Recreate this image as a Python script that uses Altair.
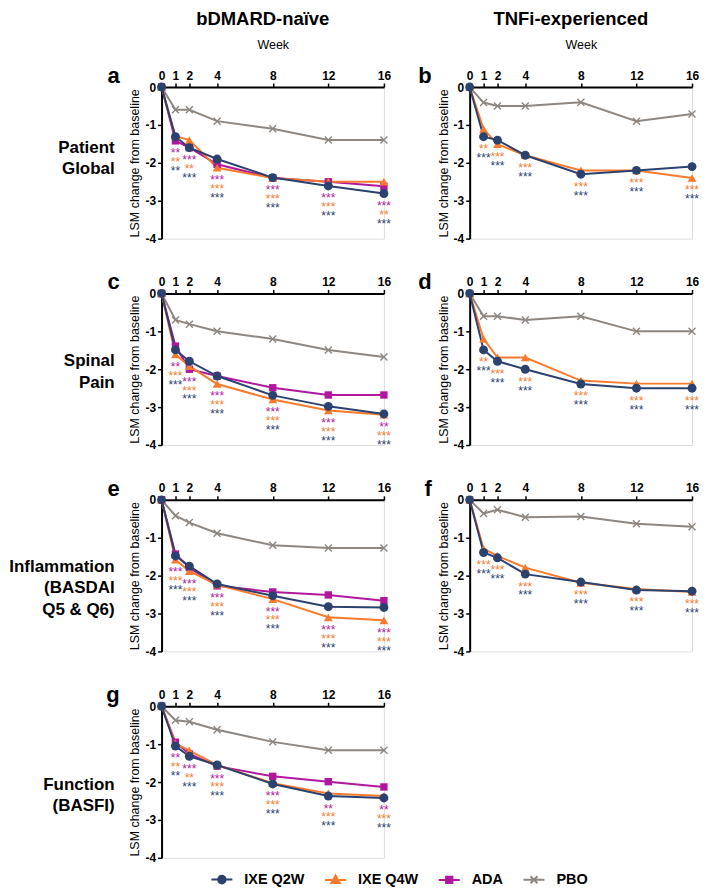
import altair as alt
import pandas as pd

FONT = "Liberation Sans"
WEEKS = [0, 1, 2, 4, 8, 12, 16]
SIG_WEEKS = [1, 2, 4, 8, 12, 16]
Y_TICKS = [0, -1, -2, -3, -4]
SERIES = ["IXE Q2W", "IXE Q4W", "ADA", "PBO"]
COLORS = ["#2b416e", "#f87a2c", "#b1179e", "#8e8680"]

COL_TITLES = ["bDMARD-naïve", "TNFi-experienced"]
ROW_LABELS = ["Patient\nGlobal", "Spinal\nPain", "Inflammation\n(BASDAI\nQ5 & Q6)", "Function\n(BASFI)"]
LETTERS = ["a", "b", "c", "d", "e", "f", "g"]
X_TITLE = "Week"
Y_TITLE = "LSM change from baseline"

# (a) Patient Global - bDMARD-naive
A_Q2W = [0, -1.31, -1.6, -1.9, -2.39, -2.61, -2.81]
A_Q4W = [0, -1.3, -1.4, -2.13, -2.4, -2.5, -2.5]
A_ADA = [0, -1.42, -1.6, -2.04, -2.4, -2.5, -2.62]
A_PBO = [0, -0.6, -0.6, -0.9, -1.1, -1.4, -1.4]
A_SIG_ADA = ["**", "***", "***", "***", "***", "***"]
A_SIG_Q4W = ["**", "**", "***", "***", "***", "**"]
A_SIG_Q2W = ["**", "***", "***", "***", "***", "***"]

# (b) Patient Global - TNFi-experienced
B_Q2W = [0, -1.31, -1.4, -1.8, -2.3, -2.2, -2.1]
B_Q4W = [0, -1.11, -1.51, -1.8, -2.2, -2.2, -2.4]
B_PBO = [0, -0.41, -0.5, -0.5, -0.4, -0.9, -0.71]
B_SIG_Q4W = ["**", "***", "***", "***", "***", "***"]
B_SIG_Q2W = ["***", "***", "***", "***", "***", "***"]

# (c) Spinal Pain - bDMARD-naive
C_Q2W = [0, -1.49, -1.79, -2.18, -2.69, -2.98, -3.18]
C_Q4W = [0, -1.61, -1.92, -2.39, -2.8, -3.09, -3.2]
C_ADA = [0, -1.39, -2.0, -2.18, -2.49, -2.68, -2.68]
C_PBO = [0, -0.7, -0.81, -1.0, -1.2, -1.49, -1.68]
C_SIG_ADA = ["**", "***", "***", "***", "***", "**"]
C_SIG_Q4W = ["***", "***", "***", "***", "***", "***"]
C_SIG_Q2W = ["***", "***", "***", "***", "***", "***"]

# (d) Spinal Pain - TNFi-experienced
D_Q2W = [0, -1.49, -1.79, -2.0, -2.39, -2.5, -2.5]
D_Q4W = [0, -1.2, -1.69, -1.69, -2.3, -2.38, -2.38]
D_PBO = [0, -0.6, -0.6, -0.7, -0.6, -1.0, -1.0]
D_SIG_Q4W = ["**", "***", "***", "***", "***", "***"]
D_SIG_Q2W = ["***", "***", "***", "***", "***", "***"]

# (e) Inflammation - bDMARD-naive
E_Q2W = [0, -1.48, -1.75, -2.22, -2.53, -2.82, -2.84]
E_Q4W = [0, -1.58, -1.88, -2.24, -2.62, -3.1, -3.18]
E_ADA = [0, -1.43, -1.79, -2.27, -2.43, -2.51, -2.66]
E_PBO = [0, -0.42, -0.6, -0.88, -1.2, -1.27, -1.27]
E_SIG_ADA = ["***", "***", "***", "***", "***", "***"]
E_SIG_Q4W = ["***", "***", "***", "***", "***", "***"]
E_SIG_Q2W = ["***", "***", "***", "***", "***", "***"]

# (f) Inflammation - TNFi-experienced
F_Q2W = [0, -1.39, -1.53, -1.96, -2.17, -2.38, -2.41]
F_Q4W = [0, -1.29, -1.48, -1.79, -2.19, -2.35, -2.43]
F_PBO = [0, -0.36, -0.26, -0.46, -0.44, -0.63, -0.71]
F_SIG_Q4W = ["***", "***", "***", "***", "***", "***"]
F_SIG_Q2W = ["***", "***", "***", "***", "***", "***"]

# (g) Function - bDMARD-naive
G_Q2W = [0, -1.05, -1.32, -1.55, -2.05, -2.37, -2.42]
G_Q4W = [0, -0.98, -1.17, -1.55, -2.03, -2.3, -2.37]
G_ADA = [0, -0.95, -1.26, -1.58, -1.85, -1.99, -2.13]
G_PBO = [0, -0.37, -0.41, -0.62, -0.94, -1.16, -1.16]
G_SIG_ADA = ["**", "***", "***", "***", "**", "**"]
G_SIG_Q4W = ["**", "**", "***", "***", "***", "***"]
G_SIG_Q2W = ["**", "***", "***", "***", "***", "***"]

PANELS = [
    dict(lines={"IXE Q2W": A_Q2W, "IXE Q4W": A_Q4W, "ADA": A_ADA, "PBO": A_PBO},
         sig={"ADA": A_SIG_ADA, "IXE Q4W": A_SIG_Q4W, "IXE Q2W": A_SIG_Q2W}),
    dict(lines={"IXE Q2W": B_Q2W, "IXE Q4W": B_Q4W, "PBO": B_PBO},
         sig={"IXE Q4W": B_SIG_Q4W, "IXE Q2W": B_SIG_Q2W}),
    dict(lines={"IXE Q2W": C_Q2W, "IXE Q4W": C_Q4W, "ADA": C_ADA, "PBO": C_PBO},
         sig={"ADA": C_SIG_ADA, "IXE Q4W": C_SIG_Q4W, "IXE Q2W": C_SIG_Q2W}),
    dict(lines={"IXE Q2W": D_Q2W, "IXE Q4W": D_Q4W, "PBO": D_PBO},
         sig={"IXE Q4W": D_SIG_Q4W, "IXE Q2W": D_SIG_Q2W}),
    dict(lines={"IXE Q2W": E_Q2W, "IXE Q4W": E_Q4W, "ADA": E_ADA, "PBO": E_PBO},
         sig={"ADA": E_SIG_ADA, "IXE Q4W": E_SIG_Q4W, "IXE Q2W": E_SIG_Q2W}),
    dict(lines={"IXE Q2W": F_Q2W, "IXE Q4W": F_Q4W, "PBO": F_PBO},
         sig={"IXE Q4W": F_SIG_Q4W, "IXE Q2W": F_SIG_Q2W}),
    dict(lines={"IXE Q2W": G_Q2W, "IXE Q4W": G_Q4W, "ADA": G_ADA, "PBO": G_PBO},
         sig={"ADA": G_SIG_ADA, "IXE Q4W": G_SIG_Q4W, "IXE Q2W": G_SIG_Q2W}),
]

# ---------------- styling ----------------
W, H = 223, 152
ROW_LABEL_CY = [61, 68, 67, 79]
X_MARK = "M-0.75,-1L0,-0.25L0.75,-1L1,-0.75L0.25,0L1,0.75L0.75,1L0,0.25L-0.75,1L-1,0.75L-0.25,0L-1,-0.75Z"
MARKER = {"IXE Q2W": ("circle", 80), "IXE Q4W": ("triangle-up", 78), "ADA": ("square", 55), "PBO": (X_MARK, 64)}
LINE_W = [2, 2, 2, 1.5]
LEG_PATHS = [
    "M-1,0H1M-0.36,0A0.36,0.36,0,1,0,0.36,0A0.36,0.36,0,1,0,-0.36,0Z",
    "M-1,0H1M0,-0.42L0.4,0.3L-0.4,0.3Z",
    "M-1,0H1M-0.3,-0.3H0.3V0.3H-0.3Z",
    "M-1,0H1M-0.33,-0.33L0.33,0.33M-0.33,0.33L0.33,-0.33",
]


def by_series(vals):
    e = "'" + vals[-1] + "'"
    for s, v in reversed(list(zip(SERIES[:-1], vals[:-1]))):
        e = "datum.value === '" + s + "' ? '" + v + "' : (" + e + ")"
    return e


legend = alt.Legend(
    title=None, orient="none", legendX=49, legendY=783, direction="horizontal",
    symbolType={"expr": by_series(LEG_PATHS)},
    symbolStrokeColor={"expr": by_series(COLORS)},
    symbolFillColor={"expr": by_series(COLORS)},
    symbolSize=441, symbolStrokeWidth=2, symbolOpacity=1,
    labelFont=FONT, labelFontSize=14.5, labelFontWeight="bold", labelColor="black",
    labelOffset=11, columnPadding=16,
)
color_scale = alt.Scale(domain=SERIES, range=COLORS)
color_leg = alt.Color("series:N", scale=color_scale, legend=legend)
color_noleg = alt.Color("series:N", scale=color_scale, legend=None)


def x_axis(top_row):
    kw = dict(orient="top", values=WEEKS, labelFont=FONT, labelFontSize=12, labelFontWeight="bold",
              labelColor="black", labelPadding=1, labelAngle=0, labelFlush=False, labelOverlap=False,
              tickSize=4, tickWidth=1.5, tickColor="black", domainColor="black", domainWidth=2,
              grid=False)
    if top_row:
        kw.update(title=X_TITLE, titleFont=FONT, titleFontSize=12.5, titleFontWeight="normal",
                  titleColor="black", titlePadding=18)
    else:
        kw.update(title=None)
    return alt.Axis(**kw)


y_axis = alt.Axis(values=Y_TICKS, title=Y_TITLE, labelFont=FONT, labelFontSize=12, labelFontWeight="bold",
                  labelColor="black", labelPadding=2, labelExpr="datum.value === 0 ? '0' : '-' + abs(datum.value)",
                  tickSize=4, tickWidth=1.5, tickColor="black", domainColor="black", domainWidth=2, grid=False,
                  titleFont=FONT, titleFontSize=12.5, titleFontWeight="normal", titleColor="black",
                  titlePadding=3)

x_scale = alt.Scale(domain=[0, 16], nice=False, zero=False)
y_scale = alt.Scale(domain=[-4, 0], nice=False, zero=False)


def make_panel(i, p):
    col, row = i % 2, i // 2
    rows = []
    draw_order = [s for s in ["PBO", "ADA", "IXE Q4W", "IXE Q2W"] if s in p["lines"]]
    for s in draw_order:
        for w, v in zip(WEEKS, p["lines"][s]):
            rows.append(dict(series=s, week=w, value=v))
    df = pd.DataFrame(rows)
    lowest = df.groupby("week")["value"].min()
    srows = []
    order = [s for s in ["ADA", "IXE Q4W", "IXE Q2W"] if s in p["sig"]]
    for rank, s in enumerate(order):
        for w, lab in zip(SIG_WEEKS, p["sig"][s]):
            srows.append(dict(series=s, week=w, label=lab, ypos=float(lowest[w]) - 0.25 - 0.235 * rank))
    sdf = pd.DataFrame(srows)

    xa = x_axis(row == 0)
    x = alt.X("week:Q", scale=x_scale, axis=xa)
    y = alt.Y("value:Q", scale=y_scale, axis=y_axis)

    lines = alt.Chart(df).mark_line().encode(
        x=x, y=y, color=color_leg,
        strokeWidth=alt.StrokeWidth("series:N", scale=alt.Scale(domain=SERIES, range=LINE_W), legend=None),
    )
    layers = [lines]
    for s in draw_order:
        shp, sz = MARKER[s]
        layers.append(
            alt.Chart(df).transform_filter(alt.datum.series == s)
            .mark_point(filled=True, opacity=1, shape=shp, size=sz)
            .encode(x=x, y=y, color=color_noleg)
        )
    sig = alt.Chart(sdf).mark_text(font=FONT, fontSize=12, baseline="middle", dy=3).encode(
        x=x, y=alt.Y("ypos:Q", scale=y_scale, axis=y_axis), text="label:N", color=color_noleg,
    )
    letter = alt.Chart(pd.DataFrame({"t": [LETTERS[i]]})).mark_text(
        font=FONT, fontSize=22, fontWeight="bold", align="right", baseline="alphabetic", color="black"
    ).encode(text="t:N", x=alt.value(-42 if col == 0 else -38), y=alt.value(-4))
    layers += [sig, letter]
    if col == 0:
        lab = alt.Chart(pd.DataFrame({"t": [ROW_LABELS[row]]})).mark_text(
            font=FONT, fontSize=17, fontWeight="bold", align="right", baseline="middle",
            lineBreak="\n", lineHeight=21.5, color="black"
        ).encode(text="t:N", x=alt.value(-47), y=alt.value(ROW_LABEL_CY[row]))
        layers.append(lab)
    if row == 0:
        ttl = alt.Chart(pd.DataFrame({"t": [COL_TITLES[col]]})).mark_text(
            font=FONT, fontSize=18.5, fontWeight="bold", align="center", baseline="middle", color="black"
        ).encode(text="t:N", x=alt.value(W / 2 - 10), y=alt.value(-68))
        layers.append(ttl)
    return alt.layer(*layers).properties(width=W, height=H)


charts = [make_panel(i, p) for i, p in enumerate(PANELS)]
chart = alt.concat(*charts, columns=2, spacing={"row": 55, "column": 86}, bounds="flush")
chart = chart.resolve_scale(color="shared", strokeWidth="shared")
chart = chart.properties(padding=0, background="white").configure_view(stroke=None).configure(font=FONT)

chart.save("out.html", embed_options={"renderer": "svg", "actions": False})
